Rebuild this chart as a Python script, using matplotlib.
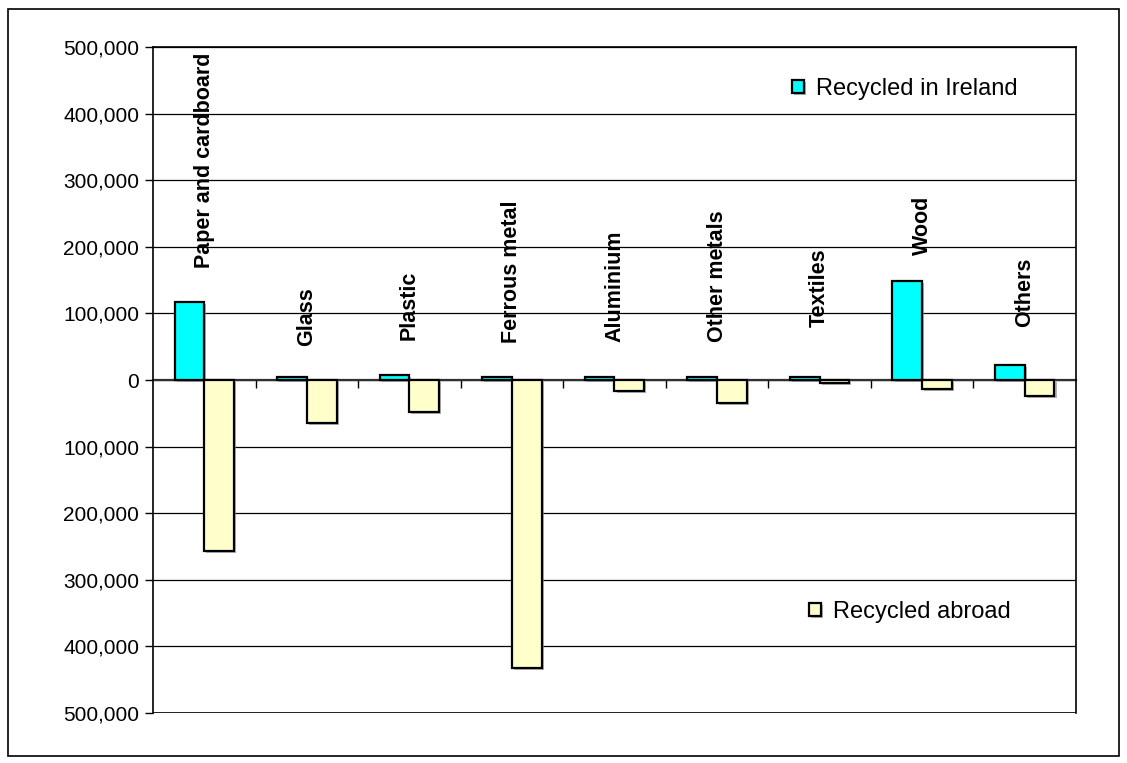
import matplotlib.pyplot as plt
import matplotlib.patheffects as pe
from matplotlib.patches import Rectangle
from matplotlib.ticker import FuncFormatter
import numpy as np

plt.rcParams['font.family'] = ['Liberation Sans', 'DejaVu Sans']

# Toneladas recicladas por material
materiales = ["Paper and cardboard", "Glass", "Plastic", "Ferrous metal", "Aluminium",
              "Other metals", "Textiles", "Wood", "Others"]
reciclado_irlanda = [117700, 4000, 7000, 4000, 4000, 4000, 4000, 148400, 22500]
reciclado_exterior = [-257000, -65000, -47600, -432000, -16500, -35000, -4500, -14000, -23600]

# altura (base del texto) de cada rotulo de material
base_rotulos = [168000, 51000, 60000, 55600, 57000, 57000, 80000, 188000, 80000]

color_irlanda = "#00FFFF"
color_exterior = "#FFFFCC"

fig = plt.figure(figsize=(11.27, 7.63), dpi=100)
ax = fig.add_axes([153 / 1127, 1 - 713 / 763, (1076 - 153) / 1127, (713 - 47) / 763])

# marco exterior del grafico
fig.patches.append(Rectangle((8 / 1127, 1 - 756 / 763), (1119 - 8) / 1127, (756 - 9) / 763,
                             transform=fig.transFigure, fill=False, edgecolor="black",
                             linewidth=1.2))

x = np.arange(len(materiales))
ancho = 0.29
sombra = [pe.SimplePatchShadow(offset=(1.5, -1.5), shadow_rgbFace="#808080", alpha=0.6), pe.Normal()]

barras_ie = ax.bar(x - ancho / 2, reciclado_irlanda, ancho, color=color_irlanda,
                   edgecolor="black", linewidth=1.6, zorder=3, label="Recycled in Ireland")
barras_ex = ax.bar(x + ancho / 2, reciclado_exterior, ancho, color=color_exterior,
                   edgecolor="black", linewidth=1.6, zorder=3, label="Recycled abroad")
for b in list(barras_ie) + list(barras_ex):
    b.set_path_effects(sombra)

for xi, nombre, base in zip(x, materiales, base_rotulos):
    ax.text(xi, base, nombre, rotation=90, ha="center", va="bottom",
            fontsize=15.5, fontweight="bold", zorder=4)

ax.set_xlim(-0.5, len(materiales) - 0.5)
ax.set_ylim(-500000, 500000)
ax.set_yticks(np.arange(-500000, 500001, 100000))
ax.yaxis.set_major_formatter(FuncFormatter(lambda v, p: f"{abs(int(v)):,}"))
ax.tick_params(axis="y", labelsize=15, direction="out", length=6, width=1, pad=4)
ax.grid(axis="y", color="black", linewidth=0.9, zorder=1)

# eje de categorias sobre el cero con marcas entre materiales
ax.spines["bottom"].set_position(("data", 0))
ax.spines["bottom"].set_linewidth(1.6)
ax.spines["bottom"].set_color("#303030")
ax.spines["bottom"].set_zorder(2)
ax.set_xticks(np.arange(0.5, len(materiales) - 0.5, 1.0))
ax.set_xticklabels([])
ax.tick_params(axis="x", direction="out", length=6, width=1)
ax.axhline(-500000, color="black", linewidth=1.2, zorder=2)
for s in ["left", "right", "top"]:
    ax.spines[s].set_linewidth(1.2)
    ax.spines[s].set_color("black")

leg1 = ax.legend(handles=[barras_ie], loc="center left", bbox_to_anchor=(792 / 1127, 1 - 89 / 763),
                 bbox_transform=fig.transFigure, frameon=False, fontsize=17,
                 handlelength=0.5, handleheight=0.5, handletextpad=0.5, borderpad=0, borderaxespad=0)
ax.add_artist(leg1)
ax.legend(handles=[barras_ex], loc="center left", bbox_to_anchor=(809 / 1127, 1 - 612 / 763),
          bbox_transform=fig.transFigure, frameon=False, fontsize=17,
          handlelength=0.5, handleheight=0.5, handletextpad=0.5, borderpad=0, borderaxespad=0)

fig.savefig("out.png", dpi=100)
